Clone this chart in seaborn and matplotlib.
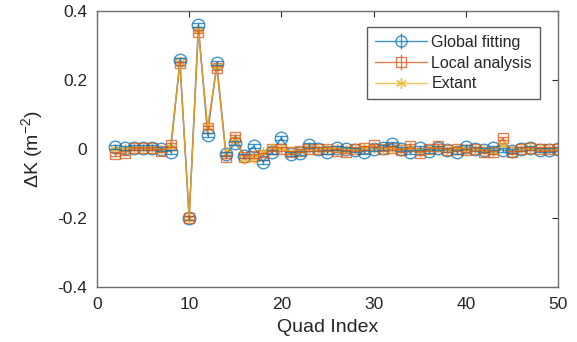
import numpy as np
import pandas as pd
import seaborn as sns
import matplotlib
matplotlib.use("Agg")
import matplotlib.pyplot as plt
from matplotlib.lines import Line2D

# quadrupole index 2..50
quad = list(range(2, 51))

global_fit = [0.005, 0.002, 0.004, 0.004, 0.004, 0.0, -0.008, 0.258, -0.2, 0.36, 0.04, 0.25,
              -0.015, 0.017, -0.02, 0.008, -0.037, -0.008, 0.032, -0.015, -0.013, 0.01, 0.0,
              -0.008, 0.002, 0.0, -0.002, -0.008, 0.0, 0.004, 0.015, 0.0, -0.01, 0.002, -0.006,
              0.003, -0.004, -0.008, 0.006, 0.0, -0.003, 0.002, -0.004, -0.006, 0.0, 0.003,
              -0.004, -0.003, 0.0]
local_fit = [-0.015, -0.012, 0.002, 0.002, 0.002, -0.005, 0.012, 0.248, -0.2, 0.34, 0.062, 0.235,
             -0.022, 0.036, -0.022, -0.02, -0.018, 0.0, 0.0, -0.01, -0.005, 0.0, 0.0, 0.0,
             -0.005, -0.008, 0.0, 0.003, 0.01, 0.0, 0.003, -0.004, 0.008, -0.012, 0.0, 0.008,
             -0.003, 0.0, -0.004, 0.0, -0.008, -0.01, 0.031, -0.01, 0.0, 0.002, 0.0, 0.0, 0.0]
extant = [0.0, 0.0, 0.004, 0.004, 0.004, -0.002, 0.005, 0.253, -0.2, 0.345, 0.065, 0.24,
          -0.015, 0.03, -0.03, -0.025, -0.01, 0.0, 0.002, -0.008, -0.005, 0.002, 0.0, 0.0,
          0.0, -0.004, 0.0, 0.002, 0.004, 0.0, 0.004, 0.0, 0.002, -0.006, 0.0, 0.004, 0.0,
          0.0, 0.0, 0.0, -0.004, -0.005, 0.01, -0.006, 0.0, 0.002, 0.0, 0.0, 0.0]
global_err = [0.006] * len(quad)
local_err = [0.005] * len(quad)

blue, orange, yellow = "#0072BD", "#D95319", "#EDB120"
asterisk = (6, 2, 0)

sns.set_style("white")
plt.rcParams["font.family"] = ["Liberation Sans", "DejaVu Sans"]
plt.rcParams["mathtext.fontset"] = "custom"
plt.rcParams["mathtext.rm"] = "Liberation Sans"
plt.rcParams["mathtext.default"] = "regular"

fig = plt.figure(figsize=(5.77, 3.42), dpi=100)
ax = fig.add_axes([0.168, 0.161, 0.799, 0.807])

df = pd.DataFrame({"quad": quad * 3,
                   "dk": global_fit + local_fit + extant,
                   "method": ["Global fitting"] * len(quad) + ["Local analysis"] * len(quad)
                             + ["Extant"] * len(quad)})

sns.lineplot(data=df, x="quad", y="dk", hue="method", style="method",
             markers=["o", "s", "*"], dashes=False, palette=[blue, orange, yellow],
             markersize=9, markeredgewidth=1.0, linewidth=1.0,
             alpha=0.75, legend=False, ax=ax)

# hollow markers, MATLAB-like asterisk for Extant
for line, ms in zip(ax.lines, [9, 7.5, 8]):
    line.set_markerfacecolor("none")
    line.set_markersize(ms)
    line.set_markeredgecolor(line.get_color())
ax.lines[2].set_marker(asterisk)

ax.errorbar(quad, global_fit, yerr=global_err, fmt="none", ecolor=blue, elinewidth=1,
            capsize=4, alpha=0.75)
ax.errorbar(quad, local_fit, yerr=local_err, fmt="none", ecolor=orange, elinewidth=1,
            capsize=3.5, alpha=0.75)

ax.set_xlim(0, 50)
ax.set_ylim(-0.4, 0.4)
ax.set_xticks([0, 10, 20, 30, 40, 50])
ax.set_yticks([-0.4, -0.2, 0, 0.2, 0.4])
ax.set_yticklabels(["-0.4", "-0.2", "0", "0.2", "0.4"])
ax.set_xlabel("Quad Index", fontsize=14, color="#262626", labelpad=5)
ax.set_ylabel("ΔK (m$^{-2}$)", fontsize=14, color="#262626", labelpad=9)
ax.tick_params(direction="in", length=4, width=0.8, top=True, right=True,
               labelsize=12.5, colors="#262626", pad=7)
for sp in ax.spines.values():
    sp.set_visible(True)
    sp.set_color("#6e6e6e")
    sp.set_linewidth(1.0)

leg_g = ax.errorbar([], [], yerr=[], fmt="-o", color=blue, mfc="none", markersize=8,
                    capsize=4, linewidth=1, alpha=0.75, label="Global fitting")
leg_l = ax.errorbar([], [], yerr=[], fmt="-s", color=orange, mfc="none", markersize=7,
                    capsize=4, linewidth=1, alpha=0.75, label="Local analysis")
leg_e = Line2D([], [], color=yellow, marker=asterisk, mfc="none", markersize=8, linewidth=1,
               alpha=0.75, label="Extant")
ax.legend(handles=[leg_g, leg_l, leg_e], loc="upper right", bbox_to_anchor=(0.961, 0.942),
          borderaxespad=0, fontsize=11.5, frameon=True, fancybox=False, edgecolor="#333333",
          borderpad=0.5, labelspacing=0.35, handlelength=3.2, handletextpad=0.3)

fig.savefig("out.png", dpi=100)
